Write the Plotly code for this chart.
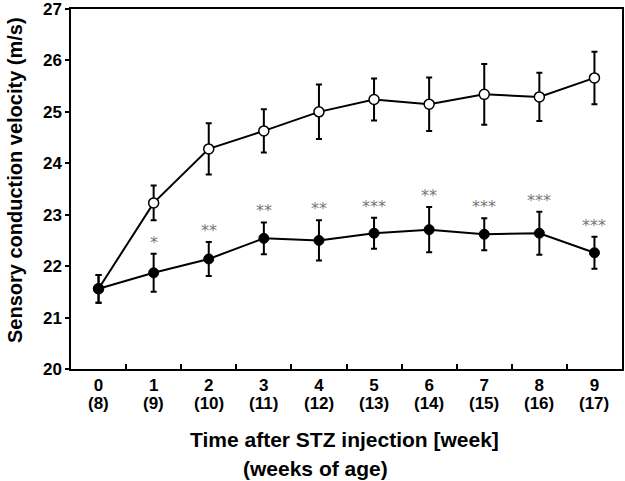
import plotly.graph_objects as go

weeks = [0, 1, 2, 3, 4, 5, 6, 7, 8, 9]
age_labels = ["(8)", "(9)", "(10)", "(11)", "(12)", "(13)", "(14)", "(15)", "(16)", "(17)"]

control_mean = [21.56, 23.23, 24.28, 24.63, 25.00, 25.24, 25.15, 25.34, 25.29, 25.66]
control_se = [0.27, 0.34, 0.50, 0.42, 0.53, 0.41, 0.52, 0.59, 0.47, 0.51]

stz_mean = [21.56, 21.87, 22.14, 22.54, 22.50, 22.64, 22.71, 22.62, 22.64, 22.26]
stz_se = [0.27, 0.37, 0.33, 0.31, 0.39, 0.30, 0.44, 0.31, 0.42, 0.31]
stz_sig = ["", "*", "**", "**", "**", "***", "**", "***", "***", "***"]

y_ticks = [20, 21, 22, 23, 24, 25, 26, 27]
minor_x_ticks = [0.5, 1.5, 2.5, 3.5, 4.5, 5.5, 6.5, 7.5, 8.5]

W, H = 625, 481
L, R, T, B = 71, 3, 9, 112
plot_h = H - T - B


def paper_y(pix):
    return (H - B - pix) / plot_h


def paper_x(pix):
    return (pix - L) / (W - L - R)


fig = go.Figure()

fig.add_trace(go.Scatter(
    x=weeks, y=control_mean, mode="lines+markers",
    line=dict(color="black", width=2),
    marker=dict(symbol="circle", size=10, color="white", line=dict(color="black", width=1.5)),
    error_y=dict(type="data", array=control_se, color="black", thickness=2, width=3),
    showlegend=False,
))
fig.add_trace(go.Scatter(
    x=weeks, y=stz_mean, mode="lines+markers",
    line=dict(color="black", width=2),
    marker=dict(symbol="circle", size=10, color="black", line=dict(color="black", width=1)),
    error_y=dict(type="data", array=stz_se, color="black", thickness=2, width=3),
    showlegend=False,
))
fig.add_trace(go.Scatter(x=[None], y=[None], xaxis="x2", showlegend=False, hoverinfo="skip"))

annotations = []
for x, m, s, sig in zip(weeks, stz_mean, stz_se, stz_sig):
    if sig:
        annotations.append(dict(
            x=x, y=m + s, xref="x", yref="y", text=sig, showarrow=False,
            xanchor="center", yanchor="bottom", yshift=0,
            font=dict(family="DejaVu Sans", size=16, color="#777777"),
        ))

for x, a in zip(weeks, age_labels):
    annotations.append(dict(
        x=x, y=paper_y(403), xref="x", yref="paper", text=f"<b>{a}</b>",
        showarrow=False, xanchor="center", yanchor="middle",
        font=dict(family="Liberation Sans", size=17, color="black"),
    ))

annotations.append(dict(
    x=paper_x(15), y=paper_y(180), xref="paper", yref="paper", textangle=-90,
    text="<b>Sensory conduction velocity (m/s)</b>", showarrow=False,
    xanchor="center", yanchor="middle",
    font=dict(family="Liberation Sans", size=20, color="black"),
))
annotations.append(dict(
    x=paper_x(344), y=paper_y(439), xref="paper", yref="paper", showarrow=False,
    xanchor="center", yanchor="middle",
    text="<b>Time after STZ injection [week]</b>",
    font=dict(family="Liberation Sans", size=21, color="black"),
))
annotations.append(dict(
    x=paper_x(315), y=paper_y(469), xref="paper", yref="paper", showarrow=False,
    xanchor="center", yanchor="middle",
    text="<b>(weeks of age)</b>",
    font=dict(family="Liberation Sans", size=21, color="black"),
))

fig.update_layout(
    width=W, height=H,
    margin=dict(l=L, r=R, t=T, b=B, autoexpand=False),
    paper_bgcolor="white", plot_bgcolor="white",
    font=dict(family="Liberation Sans", color="black"),
    xaxis=dict(
        range=[-0.5, 9.5], tickmode="array", tickvals=weeks,
        ticktext=[f"<b>{w}</b>" for w in weeks],
        ticks="", showgrid=False, zeroline=False,
        showline=True, linecolor="black", linewidth=1.5, mirror=True,
        tickfont=dict(family="Liberation Sans", size=17, color="black"),
        ticklabeloverflow="allow",
    ),
    xaxis2=dict(
        range=[-0.5, 9.5], overlaying="x", tickmode="array", tickvals=minor_x_ticks,
        ticks="inside", ticklen=5, tickwidth=1.5, tickcolor="black",
        showticklabels=False, showgrid=False, zeroline=False, anchor="y", side="bottom",
    ),
    yaxis=dict(
        range=[20, 27], tickmode="array", tickvals=y_ticks,
        ticktext=[f"<b>{v}</b>" for v in y_ticks],
        ticks="outside", ticklen=4, tickwidth=1.5, tickcolor="black",
        showgrid=False, zeroline=False,
        showline=True, linecolor="black", linewidth=1.5, mirror=True,
        tickfont=dict(family="Liberation Sans", size=17, color="black"),
        ticklabeloverflow="allow",
    ),
    annotations=annotations,
)

fig.write_html(
    "out.html",
    config={"displayModeBar": False},
    post_script="document.body.style.margin='0px';",
)
